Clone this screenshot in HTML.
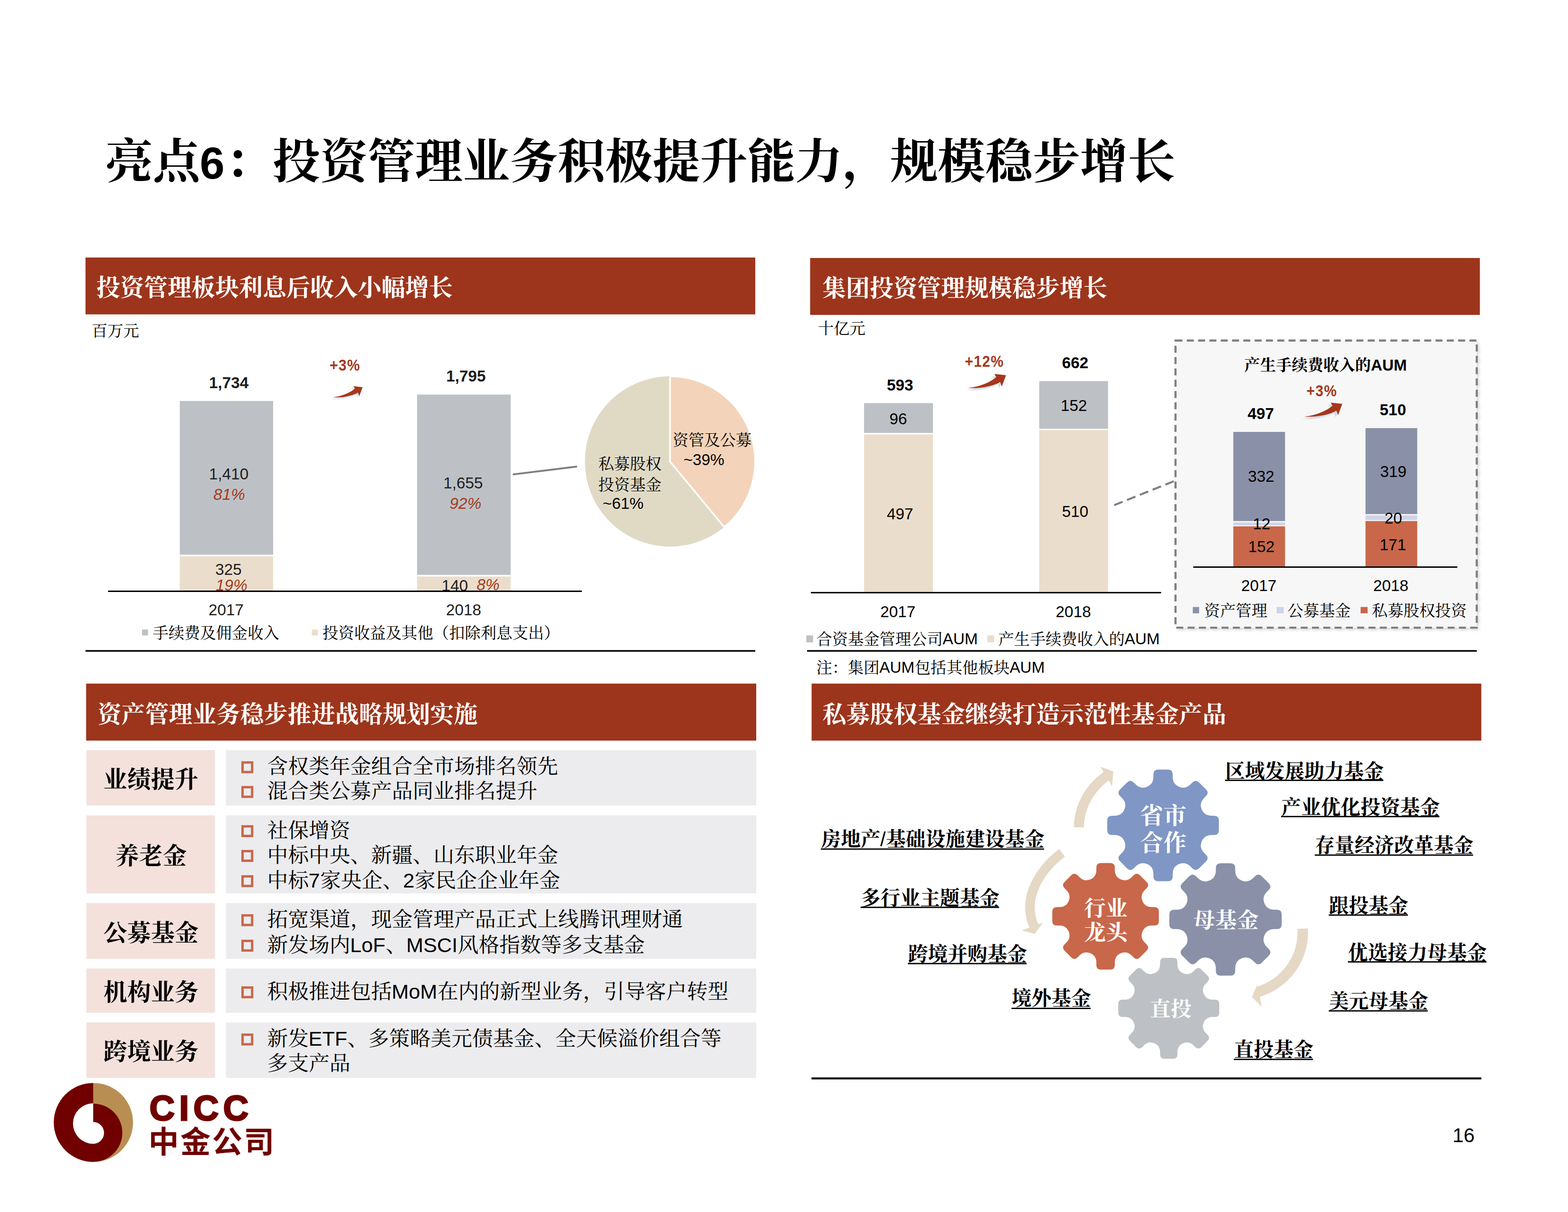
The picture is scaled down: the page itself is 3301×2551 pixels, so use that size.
<!DOCTYPE html>
<html lang="zh-CN"><head><meta charset="utf-8"><title>亮点6：投资管理业务积极提升能力，规模稳步增长</title>
<style>html,body{margin:0;padding:0;background:#fff}body{width:3301px;height:2551px;overflow:hidden}svg{display:block;font-family:"Liberation Sans",sans-serif}text{white-space:pre}.cj{font-family:"Liberation Sans","Noto Serif CJK SC",serif}.lg{font-family:"Liberation Sans","Noto Sans CJK SC",sans-serif}</style></head>
<body>
<svg width="3301" height="2551" viewBox="0 0 3301 2551">
<defs>
<g id="sw"><path d="M0 0C25 -3 47 -12 59.7 -23.1L55.7 -29.7L80.2 -27.1L71.4 -3.3L67.8 -12.8C56 -5.5 30 1.5 0 0Z" fill="#BCCBDC" opacity=".7" transform="translate(-5,4.6)" filter="url(#bl)"/><path d="M0 0C25 -3 47 -12 59.7 -23.1L55.7 -29.7L80.2 -27.1L71.4 -3.3L67.8 -12.8C56 -5.5 30 1.5 0 0Z" fill="#A5371B"/></g>
<filter id="bl" x="-20%" y="-40%" width="140%" height="180%"><feGaussianBlur stdDeviation="1.1"/></filter>
<clipPath id="cp1"><rect x="300" y="1100" width="900" height="143"/></clipPath>
<filter id="sh" x="-5%" y="-5%" width="110%" height="110%"><feDropShadow dx="3" dy="3" stdDeviation="3" flood-color="#000" flood-opacity=".16"/></filter>
</defs>
<text class="cj" x="221.8" y="375" font-size="100" font-weight="bold" fill="#000">亮点</text>
<text x="420.5" y="375.5" font-size="94" font-weight="bold">6</text>
<text class="cj" x="474" y="375" font-size="100" font-weight="bold" fill="#000">：投资管理业务积极提升能力，规模稳步增长</text>
<rect x="180" y="542" width="1410" height="119.7" fill="#9C351B"/>
<text class="cj" x="203.1" y="623" font-size="50" font-weight="bold" fill="#fff">投资管理板块利息后收入小幅增长</text>
<rect x="1705.5" y="543" width="1410" height="119.8" fill="#9C351B"/>
<text class="cj" x="1731.1" y="624" font-size="50" font-weight="bold" fill="#fff">集团投资管理规模稳步增长</text>
<rect x="181.3" y="1438.8" width="1410.7" height="120" fill="#9C351B"/>
<text class="cj" x="205.6" y="1520.8" font-size="50" font-weight="bold" fill="#fff">资产管理业务稳步推进战略规划实施</text>
<rect x="1708.6" y="1438.8" width="1409.9" height="120" fill="#9C351B"/>
<text class="cj" x="1731.6" y="1520.8" font-size="50" font-weight="bold" fill="#fff">私募股权基金继续打造示范性基金产品</text>
<text class="cj" x="192.9" y="707.8" font-size="33.3" fill="#000">百万元</text>
<rect x="378.5" y="844" width="196.5" height="323.5" fill="#BDC1C5"/>
<rect x="378.5" y="1171" width="196.5" height="72.5" fill="#EBDDCB"/>
<rect x="878" y="830.5" width="197" height="379.5" fill="#BDC1C5"/>
<rect x="878" y="1213.5" width="197" height="30" fill="#EBDDCB"/>
<text x="440" y="817" font-size="33.3" fill="#1e1e1e" font-weight="bold">1,734</text>
<text x="939.3" y="803.4" font-size="33.3" fill="#1e1e1e" font-weight="bold">1,795</text>
<text transform="translate(694.1,780.2) scale(0.9,1)" font-size="33.3" fill="#A23A1E" font-weight="bold" letter-spacing="1.4">+3%</text>
<text x="440" y="1009.4" font-size="33.3" fill="#1e1e1e">1,410</text>
<text x="449.2" y="1051.9" font-size="33.3" fill="#A23A1E" font-style="italic">81%</text>
<text x="933.3" y="1027.9" font-size="33.3" fill="#1e1e1e">1,655</text>
<text x="946.6" y="1070.9" font-size="33.3" fill="#A23A1E" font-style="italic">92%</text>
<text x="453.2" y="1209.9" font-size="33.3" fill="#1e1e1e">325</text>
<g clip-path="url(#cp1)">
<text x="454.1" y="1243.4" font-size="33.3" fill="#A23A1E" font-style="italic">19%</text>
<text x="929.7" y="1244.4" font-size="33.3" fill="#1e1e1e">140</text>
<text x="1003.4" y="1241.9" font-size="33.3" fill="#A23A1E" font-style="italic">8%</text>
</g>
<rect x="227.5" y="1243" width="997.5" height="3" fill="#000"/>
<text x="438.9" y="1295.4" font-size="33.3" fill="#1e1e1e">2017</text>
<text x="938.9" y="1295.4" font-size="33.3" fill="#1e1e1e">2018</text>
<rect x="299" y="1325" width="12.5" height="12.5" fill="#BDC1C5"/>
<text class="cj" x="321.4" y="1343.8" font-size="33.3" fill="#000">手续费及佣金收入</text>
<rect x="656.5" y="1325" width="12.5" height="12.5" fill="#EBDDCB"/>
<text class="cj" x="678.9" y="1343.8" font-size="33.3" fill="#000">投资收益及其他（扣除利息支出）</text>
<rect x="180" y="1368.3" width="1410" height="3.4" fill="#000"/>
<line x1="1079.5" y1="998.6" x2="1214.7" y2="982" stroke="#7f7f7f" stroke-width="3.8"/>
<circle cx="1410.5" cy="971.3" r="179.2" fill="#E0DAC5"/>
<path d="M1410.5 971.3V792.1A179.2 179.2 0 0 1 1524.7 1109.4Z" fill="#F3D4BA" stroke="#fff" stroke-width="3.5" stroke-linejoin="round"/>
<text class="cj" x="1415.9" y="938.3" font-size="33.3" fill="#000">资管及公募</text>
<text x="1438.9" y="979.4" font-size="33.3">~39%</text>
<text class="cj" x="1259.4" y="988.1" font-size="33.3" fill="#000">私募股权</text>
<text class="cj" x="1259.4" y="1031.7" font-size="33.3" fill="#000">投资基金</text>
<text x="1268.7" y="1070.7" font-size="33.3">~61%</text>
<text class="cj" x="1721.9" y="702.8" font-size="33.3" fill="#000">十亿元</text>
<rect x="1819" y="848.5" width="145" height="62.7" fill="#BDC1C5"/>
<rect x="1819" y="914.5" width="145" height="331.8" fill="#EBDDCB"/>
<rect x="2187.8" y="802.2" width="144.9" height="100.3" fill="#BDC1C5"/>
<rect x="2187.8" y="905.2" width="144.9" height="341.1" fill="#EBDDCB"/>
<rect x="1707" y="1245.9" width="737.4" height="3" fill="#000"/>
<text x="1866.9" y="822.3" font-size="33.3" font-weight="bold">593</text>
<text x="2235.7" y="775.4" font-size="33.3" font-weight="bold">662</text>
<text transform="translate(2031.2,771.6) scale(0.9,1)" font-size="33.3" fill="#A23A1E" font-weight="bold" letter-spacing="1.4">+12%</text>
<text x="1872.4" y="892.6" font-size="33.3">96</text>
<text x="2233" y="864.8" font-size="33.3">152</text>
<text x="1866.9" y="1093.1" font-size="33.3">497</text>
<text x="2235.7" y="1087.6" font-size="33.3">510</text>
<text x="1853.2" y="1299" font-size="33.3">2017</text>
<text x="2222.6" y="1299" font-size="33.3">2018</text>
<rect x="1697.4" y="1337.3" width="14.2" height="14.7" fill="#BDC1C5"/>
<text class="cj" x="1718.4" y="1356.6" font-size="33.3" fill="#000">合资基金管理公司</text>
<text x="1984.6" y="1356.3" font-size="33.3">AUM</text>
<rect x="2078.8" y="1337.3" width="14.2" height="14.7" fill="#EBDDCB"/>
<text class="cj" x="2101.4" y="1356.6" font-size="33.3" fill="#000">产生手续费收入的</text>
<text x="2367.6" y="1356.3" font-size="33.3">AUM</text>
<rect x="1699" y="1368.3" width="1410" height="3.4" fill="#000"/>
<text class="cj" x="1718.4" y="1416.6" font-size="33.3" fill="#000">注：集团</text>
<text x="1851.3" y="1416.3" font-size="33.3">AUM</text>
<text class="cj" x="1925.8" y="1416.6" font-size="33.3" fill="#000">包括其他板块</text>
<text x="2125.4" y="1416.3" font-size="33.3">AUM</text>
<line x1="2345.8" y1="1063.2" x2="2472" y2="1012.5" stroke="#7f7f7f" stroke-width="4.2" stroke-dasharray="19 10"/>
<rect x="2474.7" y="716.7" width="634.2" height="604.4" fill="#F7F7F7" stroke="#7f7f7f" stroke-width="4.4" stroke-dasharray="14.7 9.1" filter="url(#sh)"/>
<text class="cj" x="2619.6" y="780.3" font-size="33.3" font-weight="bold" fill="#000">产生手续费收入的</text>
<text x="2885.9" y="780" font-size="33.3" font-weight="bold">AUM</text>
<text transform="translate(2750.5,834.3) scale(0.9,1)" font-size="33.3" fill="#A23A1E" font-weight="bold" letter-spacing="1.4">+3%</text>
<text x="2626.4" y="881.9" font-size="33.3" font-weight="bold">497</text>
<text x="2904.6" y="874.3" font-size="33.3" font-weight="bold">510</text>
<rect x="2596.4" y="909.1" width="108.9" height="187.6" fill="#8A90A8"/>
<rect x="2596.4" y="1099.8" width="108.9" height="5.8" fill="#CDD4E8"/>
<rect x="2596.4" y="1107.8" width="108.9" height="84.4" fill="#C8674A"/>
<rect x="2874.7" y="901.1" width="108.9" height="180.9" fill="#8A90A8"/>
<rect x="2874.7" y="1084.7" width="108.9" height="9.7" fill="#CDD4E8"/>
<rect x="2874.7" y="1096.7" width="108.9" height="95.5" fill="#C8674A"/>
<rect x="2512" y="1192.1" width="556" height="3" fill="#000"/>
<text x="2627.3" y="1014.3" font-size="33.3">332</text>
<text x="2905.5" y="1004.1" font-size="33.3">319</text>
<text x="2637.5" y="1114.3" font-size="33.3">12</text>
<text x="2914.8" y="1101.9" font-size="33.3">20</text>
<text x="2627.8" y="1161.9" font-size="33.3">152</text>
<text x="2904.6" y="1157.5" font-size="33.3">171</text>
<text x="2613.1" y="1244.1" font-size="33.3">2017</text>
<text x="2890.9" y="1244.1" font-size="33.3">2018</text>
<rect x="2511.1" y="1277.6" width="13.3" height="13.3" fill="#8A90A8"/>
<text class="cj" x="2534.9" y="1296.5" font-size="33.3" fill="#000">资产管理</text>
<rect x="2687.6" y="1277.6" width="14.6" height="13.3" fill="#CDD4E8"/>
<text class="cj" x="2710.4" y="1296.5" font-size="33.3" fill="#000">公募基金</text>
<rect x="2864.4" y="1277.6" width="14.7" height="13.3" fill="#C8674A"/>
<text class="cj" x="2888.1" y="1296.5" font-size="33.3" fill="#000">私募股权投资</text>
<use href="#sw" transform="translate(700,836.3) scale(0.79)"/>
<use href="#sw" transform="translate(2037.7,816.8) scale(1.0)"/>
<use href="#sw" transform="translate(2745.6,877.1) scale(1.0)"/>
<rect x="182" y="1579" width="270.5" height="116.3" fill="#F4E1DC"/>
<rect x="475.4" y="1579" width="1116.6" height="116.3" fill="#ECECEE"/>
<text class="cj" x="217.8" y="1657.5" font-size="50" font-weight="bold" fill="#000">业绩提升</text>
<rect x="510.6" y="1604.8" width="20.2" height="20.2" fill="none" stroke="#C8674A" stroke-width="5"/>
<text class="cj" x="562.5" y="1628.4" font-size="43.75" fill="#000">含权类年金组合全市场排名领先</text>
<rect x="510.6" y="1656.8" width="20.2" height="20.2" fill="none" stroke="#C8674A" stroke-width="5"/>
<text class="cj" x="562.5" y="1680.4" font-size="43.75" fill="#000">混合类公募产品同业排名提升</text>
<rect x="182" y="1716.2" width="270.5" height="164.2" fill="#F4E1DC"/>
<rect x="475.4" y="1716.2" width="1116.6" height="164.2" fill="#ECECEE"/>
<text class="cj" x="242.8" y="1819.1" font-size="50" font-weight="bold" fill="#000">养老金</text>
<rect x="510.6" y="1739.3" width="20.2" height="20.2" fill="none" stroke="#C8674A" stroke-width="5"/>
<text class="cj" x="562.5" y="1762.9" font-size="43.75" fill="#000">社保增资</text>
<rect x="510.6" y="1791.4" width="20.2" height="20.2" fill="none" stroke="#C8674A" stroke-width="5"/>
<text class="cj" x="562.5" y="1815" font-size="43.75" fill="#000">中标中央、新疆、山东职业年金</text>
<rect x="510.6" y="1844.6" width="20.2" height="20.2" fill="none" stroke="#C8674A" stroke-width="5"/>
<text class="cj" x="562.5" y="1868.2" font-size="43.75" fill="#000">中标</text>
<text x="649.5" y="1867.8" font-size="43.2">7</text>
<text class="cj" x="674.1" y="1868.2" font-size="43.75" fill="#000">家央企、</text>
<text x="848.5" y="1867.8" font-size="43.2">2</text>
<text class="cj" x="873.1" y="1868.2" font-size="43.75" fill="#000">家民企企业年金</text>
<rect x="182" y="1900.7" width="270.5" height="117.3" fill="#F4E1DC"/>
<rect x="475.4" y="1900.7" width="1116.6" height="117.3" fill="#ECECEE"/>
<text class="cj" x="217.8" y="1980.8" font-size="50" font-weight="bold" fill="#000">公募基金</text>
<rect x="510.6" y="1926.7" width="20.2" height="20.2" fill="none" stroke="#C8674A" stroke-width="5"/>
<text class="cj" x="562.5" y="1950.3" font-size="43.75" fill="#000">拓宽渠道，现金管理产品正式上线腾讯理财通</text>
<rect x="510.6" y="1980.4" width="20.2" height="20.2" fill="none" stroke="#C8674A" stroke-width="5"/>
<text class="cj" x="562.5" y="2004" font-size="43.75" fill="#000">新发场内</text>
<text x="737" y="2003.5" font-size="43.2">LoF</text>
<text class="cj" x="812" y="2004" font-size="43.75" fill="#000">、</text>
<text x="855.2" y="2003.5" font-size="43.2">MSCI</text>
<text class="cj" x="963.7" y="2004" font-size="43.75" fill="#000">风格指数等多支基金</text>
<rect x="182" y="2038.4" width="270.5" height="93.3" fill="#F4E1DC"/>
<rect x="475.4" y="2038.4" width="1116.6" height="93.3" fill="#ECECEE"/>
<text class="cj" x="217.8" y="2105.9" font-size="50" font-weight="bold" fill="#000">机构业务</text>
<rect x="510.6" y="2078.5" width="20.2" height="20.2" fill="none" stroke="#C8674A" stroke-width="5"/>
<text class="cj" x="562.5" y="2102.1" font-size="43.75" fill="#000">积极推进包括</text>
<text x="824.5" y="2101.7" font-size="43.2">MoM</text>
<text class="cj" x="921" y="2102.1" font-size="43.75" fill="#000">在内的新型业务，引导客户转型</text>
<rect x="182" y="2152" width="270.5" height="116.8" fill="#F4E1DC"/>
<rect x="475.4" y="2152" width="1116.6" height="116.8" fill="#ECECEE"/>
<text class="cj" x="217.8" y="2231" font-size="50" font-weight="bold" fill="#000">跨境业务</text>
<rect x="510.6" y="2177.8" width="20.2" height="20.2" fill="none" stroke="#C8674A" stroke-width="5"/>
<text class="cj" x="562.5" y="2201.4" font-size="43.75" fill="#000">新发</text>
<text x="649.5" y="2200.9" font-size="43.2">ETF</text>
<text class="cj" x="731.6" y="2201.4" font-size="43.75" fill="#000">、多策略美元债基金、全天候溢价组合等</text>
<text class="cj" x="562.5" y="2253.1" font-size="43.75" fill="#000">多支产品</text>
<path d="M2414.8 1656Q2428.2 1650.4 2428.2 1635.1L2428.2 1629.8Q2428.2 1619.8 2438.2 1619.8L2458.8 1619.8Q2468.8 1619.8 2468.8 1629.8L2468.8 1635.1Q2468.8 1650.4 2482.2 1656A90.5 90.5 0 0 1 2482.2 1656Q2495.6 1661.6 2506.4 1650.7L2510.2 1646.9Q2517.3 1639.9 2524.3 1646.9L2538.9 1661.5Q2545.9 1668.5 2538.9 1675.6L2535.1 1679.4Q2524.2 1690.2 2529.8 1703.6A90.5 90.5 0 0 1 2529.8 1703.6Q2535.4 1717 2550.7 1717L2556 1717Q2566 1717 2566 1727L2566 1747.6Q2566 1757.6 2556 1757.6L2550.7 1757.6Q2535.4 1757.6 2529.8 1771A90.5 90.5 0 0 1 2529.8 1771Q2524.2 1784.4 2535.1 1795.2L2538.9 1799Q2545.9 1806.1 2538.9 1813.1L2524.3 1827.7Q2517.3 1834.7 2510.2 1827.7L2506.4 1823.9Q2495.6 1813 2482.2 1818.6A90.5 90.5 0 0 1 2482.2 1818.6Q2468.8 1824.2 2468.8 1839.5L2468.8 1844.8Q2468.8 1854.8 2458.8 1854.8L2438.2 1854.8Q2428.2 1854.8 2428.2 1844.8L2428.2 1839.5Q2428.2 1824.2 2414.8 1818.6A90.5 90.5 0 0 1 2414.8 1818.6Q2401.4 1813 2390.6 1823.9L2386.8 1827.7Q2379.7 1834.7 2372.7 1827.7L2358.1 1813.1Q2351.1 1806.1 2358.1 1799L2361.9 1795.2Q2372.8 1784.4 2367.2 1771A90.5 90.5 0 0 1 2367.2 1771Q2361.6 1757.6 2346.3 1757.6L2341 1757.6Q2331 1757.6 2331 1747.6L2331 1727Q2331 1717 2341 1717L2346.3 1717Q2361.6 1717 2367.2 1703.6A90.5 90.5 0 0 1 2367.2 1703.6Q2372.8 1690.2 2361.9 1679.4L2358.1 1675.6Q2351.1 1668.5 2358.1 1661.5L2372.7 1646.9Q2379.7 1639.9 2386.8 1646.9L2390.6 1650.7Q2401.4 1661.6 2414.8 1656A90.5 90.5 0 0 1 2414.8 1656Z" fill="#8096C5"/>
<path d="M2295.3 1851Q2308.1 1845.7 2308.1 1831L2308.1 1825.9Q2308.1 1816.4 2317.7 1816.4L2337.3 1816.4Q2346.9 1816.4 2346.9 1825.9L2346.9 1831Q2346.9 1845.7 2359.7 1851A86.4 86.4 0 0 1 2359.7 1851Q2372.5 1856.3 2382.8 1845.9L2386.4 1842.3Q2393.2 1835.6 2399.9 1842.3L2413.8 1856.2Q2420.5 1862.9 2413.8 1869.7L2410.2 1873.3Q2399.8 1883.6 2405.1 1896.4A86.4 86.4 0 0 1 2405.1 1896.4Q2410.4 1909.2 2425.1 1909.2L2430.2 1909.2Q2439.7 1909.2 2439.7 1918.8L2439.7 1938.4Q2439.7 1948 2430.2 1948L2425.1 1948Q2410.4 1948 2405.1 1960.8A86.4 86.4 0 0 1 2405.1 1960.8Q2399.8 1973.6 2410.2 1983.9L2413.8 1987.5Q2420.5 1994.3 2413.8 2001L2399.9 2014.9Q2393.2 2021.6 2386.4 2014.9L2382.8 2011.3Q2372.5 2000.9 2359.7 2006.2A86.4 86.4 0 0 1 2359.7 2006.2Q2346.9 2011.5 2346.9 2026.2L2346.9 2031.3Q2346.9 2040.8 2337.3 2040.8L2317.7 2040.8Q2308.1 2040.8 2308.1 2031.3L2308.1 2026.2Q2308.1 2011.5 2295.3 2006.2A86.4 86.4 0 0 1 2295.3 2006.2Q2282.5 2000.9 2272.2 2011.3L2268.6 2014.9Q2261.8 2021.6 2255.1 2014.9L2241.2 2001Q2234.5 1994.3 2241.2 1987.5L2244.8 1983.9Q2255.2 1973.6 2249.9 1960.8A86.4 86.4 0 0 1 2249.9 1960.8Q2244.6 1948 2229.9 1948L2224.8 1948Q2215.3 1948 2215.3 1938.4L2215.3 1918.8Q2215.3 1909.2 2224.8 1909.2L2229.9 1909.2Q2244.6 1909.2 2249.9 1896.4A86.4 86.4 0 0 1 2249.9 1896.4Q2255.2 1883.6 2244.8 1873.3L2241.2 1869.7Q2234.5 1862.9 2241.2 1856.2L2255.1 1842.3Q2261.8 1835.6 2268.6 1842.3L2272.2 1845.9Q2282.5 1856.3 2295.3 1851A86.4 86.4 0 0 1 2295.3 1851Z" fill="#C8674A"/>
<path d="M2546.1 1853.3Q2559.6 1847.8 2559.6 1832.3L2559.6 1827Q2559.6 1816.9 2569.6 1816.9L2590.4 1816.9Q2600.4 1816.9 2600.4 1827L2600.4 1832.3Q2600.4 1847.8 2613.9 1853.3A91.1 91.1 0 0 1 2613.9 1853.3Q2627.4 1858.9 2638.3 1848L2642.1 1844.2Q2649.2 1837.1 2656.3 1844.2L2671 1858.9Q2678.1 1866 2671 1873.1L2667.2 1876.9Q2656.3 1887.8 2661.9 1901.3A91.1 91.1 0 0 1 2661.9 1901.3Q2667.4 1914.8 2682.9 1914.8L2688.2 1914.8Q2698.3 1914.8 2698.3 1924.8L2698.3 1945.6Q2698.3 1955.6 2688.2 1955.6L2682.9 1955.6Q2667.4 1955.6 2661.9 1969.1A91.1 91.1 0 0 1 2661.9 1969.1Q2656.3 1982.6 2667.2 1993.5L2671 1997.3Q2678.1 2004.4 2671 2011.5L2656.3 2026.2Q2649.2 2033.3 2642.1 2026.2L2638.3 2022.4Q2627.4 2011.5 2613.9 2017.1A91.1 91.1 0 0 1 2613.9 2017.1Q2600.4 2022.6 2600.4 2038.1L2600.4 2043.4Q2600.4 2053.5 2590.4 2053.5L2569.6 2053.5Q2559.6 2053.5 2559.6 2043.4L2559.6 2038.1Q2559.6 2022.6 2546.1 2017.1A91.1 91.1 0 0 1 2546.1 2017.1Q2532.6 2011.5 2521.7 2022.4L2517.9 2026.2Q2510.8 2033.3 2503.7 2026.2L2489 2011.5Q2481.9 2004.4 2489 1997.3L2492.8 1993.5Q2503.7 1982.6 2498.1 1969.1A91.1 91.1 0 0 1 2498.1 1969.1Q2492.6 1955.6 2477.1 1955.6L2471.8 1955.6Q2461.7 1955.6 2461.7 1945.6L2461.7 1924.8Q2461.7 1914.8 2471.8 1914.8L2477.1 1914.8Q2492.6 1914.8 2498.1 1901.3A91.1 91.1 0 0 1 2498.1 1901.3Q2503.7 1887.8 2492.8 1876.9L2489 1873.1Q2481.9 1866 2489 1858.9L2503.7 1844.2Q2510.8 1837.1 2517.9 1844.2L2521.7 1848Q2532.6 1858.9 2546.1 1853.3A91.1 91.1 0 0 1 2546.1 1853.3Z" fill="#8A90A8"/>
<path d="M2430 2048.6Q2442.2 2043.6 2442.2 2029.8L2442.2 2024.9Q2442.2 2015.9 2451.2 2015.9L2469.8 2015.9Q2478.8 2015.9 2478.8 2024.9L2478.8 2029.8Q2478.8 2043.6 2491 2048.6A81.9 81.9 0 0 1 2491 2048.6Q2503.1 2053.7 2512.9 2043.9L2516.3 2040.5Q2522.7 2034.1 2529.1 2040.5L2542.2 2053.6Q2548.6 2060 2542.2 2066.4L2538.8 2069.8Q2529 2079.6 2534.1 2091.7A81.9 81.9 0 0 1 2534.1 2091.7Q2539.1 2103.9 2552.9 2103.9L2557.8 2103.9Q2566.8 2103.9 2566.8 2112.9L2566.8 2131.5Q2566.8 2140.5 2557.8 2140.5L2552.9 2140.5Q2539.1 2140.5 2534.1 2152.7A81.9 81.9 0 0 1 2534.1 2152.7Q2529 2164.8 2538.8 2174.6L2542.2 2178Q2548.6 2184.4 2542.2 2190.8L2529.1 2203.9Q2522.7 2210.3 2516.3 2203.9L2512.9 2200.5Q2503.1 2190.7 2491 2195.8A81.9 81.9 0 0 1 2491 2195.8Q2478.8 2200.8 2478.8 2214.6L2478.8 2219.5Q2478.8 2228.5 2469.8 2228.5L2451.2 2228.5Q2442.2 2228.5 2442.2 2219.5L2442.2 2214.6Q2442.2 2200.8 2430 2195.8A81.9 81.9 0 0 1 2430 2195.8Q2417.9 2190.7 2408.1 2200.5L2404.7 2203.9Q2398.3 2210.3 2391.9 2203.9L2378.8 2190.8Q2372.4 2184.4 2378.8 2178L2382.2 2174.6Q2392 2164.8 2386.9 2152.7A81.9 81.9 0 0 1 2386.9 2152.7Q2381.9 2140.5 2368.1 2140.5L2363.2 2140.5Q2354.2 2140.5 2354.2 2131.5L2354.2 2112.9Q2354.2 2103.9 2363.2 2103.9L2368.1 2103.9Q2381.9 2103.9 2386.9 2091.7A81.9 81.9 0 0 1 2386.9 2091.7Q2392 2079.6 2382.2 2069.8L2378.8 2066.4Q2372.4 2060 2378.8 2053.6L2391.9 2040.5Q2398.3 2034.1 2404.7 2040.5L2408.1 2043.9Q2417.9 2053.7 2430 2048.6A81.9 81.9 0 0 1 2430 2048.6Z" fill="#BDC1C5"/>
<text class="cj" x="2400.1" y="1733.7" font-size="49" font-weight="bold" fill="#fff">省市</text>
<text class="cj" x="2400.1" y="1790.7" font-size="49" font-weight="bold" fill="#fff">合作</text>
<text class="cj" x="2282.3" y="1927.6" font-size="45.8" font-weight="bold" fill="#fff">行业</text>
<text class="cj" x="2282.3" y="1979.3" font-size="45.8" font-weight="bold" fill="#fff">龙头</text>
<text class="cj" x="2512.3" y="1953" font-size="45.8" font-weight="bold" fill="#fff">母基金</text>
<text class="cj" x="2421" y="2138.6" font-size="43.75" font-weight="bold" fill="#fff">直投</text>
<path d="M2271 1741.5C2273 1690 2298 1655 2334 1630" fill="none" stroke="#E5D8C4" stroke-width="21"/>
<path d="M2316.6 1614.1L2343.9 1623.6L2341 1654.2Z" fill="#E5D8C4"/>
<path d="M2235.7 1795C2190 1830 2150 1890 2177 1950" fill="none" stroke="#E5D8C4" stroke-width="20"/>
<path d="M2151.1 1958.2L2178.5 1965.6L2195.9 1942Z" fill="#E5D8C4"/>
<path d="M2742.5 1954.5C2745 2020 2705 2070 2648 2088" fill="none" stroke="#E5D8C4" stroke-width="22"/>
<path d="M2647.4 2072L2635.6 2098.3L2656.2 2118.9Z" fill="#E5D8C4"/>
<text class="cj" x="2579.4" y="1637.8" font-size="41.7" font-weight="bold" fill="#000">区域发展助力基金</text>
<rect x="2578.9" y="1641" width="333.4" height="2.8" fill="#000"/>
<text class="cj" x="2697.5" y="1714" font-size="41.7" font-weight="bold" fill="#000">产业优化投资基金</text>
<rect x="2697" y="1717.3" width="333.4" height="2.8" fill="#000"/>
<text class="cj" x="2768.3" y="1794.3" font-size="41.7" font-weight="bold" fill="#000">存量经济改革基金</text>
<rect x="2767.8" y="1798.4" width="333.4" height="2.8" fill="#000"/>
<text class="cj" x="2797.8" y="1920.5" font-size="41.7" font-weight="bold" fill="#000">跟投基金</text>
<rect x="2797.3" y="1924.6" width="166.7" height="2.8" fill="#000"/>
<text class="cj" x="2838.1" y="2020" font-size="41.7" font-weight="bold" fill="#000">优选接力母基金</text>
<rect x="2837.6" y="2023.2" width="291.7" height="2.8" fill="#000"/>
<text class="cj" x="2797.9" y="2121.7" font-size="41.7" font-weight="bold" fill="#000">美元母基金</text>
<rect x="2797.4" y="2126.3" width="208.4" height="2.8" fill="#000"/>
<text class="cj" x="2597.9" y="2223.8" font-size="41.7" font-weight="bold" fill="#000">直投基金</text>
<rect x="2597.4" y="2228.4" width="166.7" height="2.8" fill="#000"/>
<text class="cj" x="1728.6" y="1781.1" font-size="41.7" font-weight="bold" fill="#000">房地产</text>
<text x="1853.1" y="1780.7" font-size="41.7">/</text>
<text class="cj" x="1865.2" y="1781.1" font-size="41.7" font-weight="bold" fill="#000">基础设施建设基金</text>
<rect x="1728.1" y="1785.7" width="469.9" height="2.8" fill="#000"/>
<text class="cj" x="1812.1" y="1904.7" font-size="41.7" font-weight="bold" fill="#000">多行业主题基金</text>
<rect x="1811.6" y="1908.4" width="291.7" height="2.8" fill="#000"/>
<text class="cj" x="1911.8" y="2023.1" font-size="41.7" font-weight="bold" fill="#000">跨境并购基金</text>
<rect x="1911.3" y="2026.7" width="250" height="2.8" fill="#000"/>
<text class="cj" x="2129.9" y="2116.4" font-size="41.7" font-weight="bold" fill="#000">境外基金</text>
<rect x="2129.4" y="2121" width="166.7" height="2.8" fill="#000"/>
<rect x="1708.4" y="2267.7" width="1410.2" height="4.2" fill="#000"/>
<circle cx="197" cy="2362.5" r="83" fill="#B98E52"/>
<path d="M196.2 2279.5A83 83 0 0 0 196.2 2445.5A61.3 61.3 0 0 0 196.2 2322.9Z" fill="#700000"/>
<path d="M196.2 2322.2A42.6 42.6 0 0 0 196.2 2407.4A22.9 22.9 0 0 0 196.2 2361.6Z" fill="#fff"/>
<text x="314.5" y="2357.6" font-size="74" font-weight="bold" fill="#700000" stroke="#700000" stroke-width="3" letter-spacing="9.3">CICC</text>
<text class="lg" x="312.5" y="2426" font-size="64" font-weight="bold" fill="#700000" letter-spacing="2.9">中金公司</text>
<text x="3058.1" y="2403.7" font-size="41.7">16</text>
</svg>
</body></html>
